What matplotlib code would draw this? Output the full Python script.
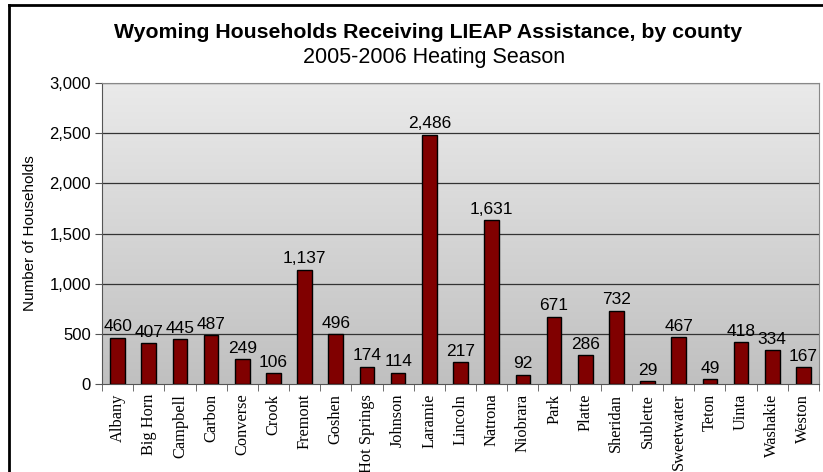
import matplotlib
matplotlib.use("Agg")
import matplotlib.pyplot as plt
import numpy as np
from matplotlib.lines import Line2D
from matplotlib.colors import LinearSegmentedColormap

counties = ["Albany", "Big Horn", "Campbell", "Carbon", "Converse", "Crook", "Fremont",
            "Goshen", "Hot Springs", "Johnson", "Laramie", "Lincoln", "Natrona", "Niobrara",
            "Park", "Platte", "Sheridan", "Sublette", "Sweetwater", "Teton", "Uinta",
            "Washakie", "Weston"]
households = [460, 407, 445, 487, 249, 106, 1137, 496, 174, 114, 2486, 217, 1631, 92,
              671, 286, 732, 29, 467, 49, 418, 334, 167]
yticks = [0, 500, 1000, 1500, 2000, 2500, 3000]

fig = plt.figure(figsize=(8.23, 4.72), dpi=100)
W, H = 823, 472
ax = fig.add_axes([102 / W, 1 - 384 / H, (819 - 102) / W, (384 - 83) / H])

# gradient background
grad = np.linspace(0, 1, 256).reshape(-1, 1)
cmap = LinearSegmentedColormap.from_list("g", ["#C0C0C0", "#EAEAEA"])
ax.imshow(grad, aspect="auto", cmap=cmap, origin="lower",
          extent=[0, 1, 0, 1], transform=ax.transAxes, zorder=0)

x = np.arange(len(counties))
ax.bar(x, households, width=0.47, color="#800000", edgecolor="black", linewidth=1.0, zorder=3)
for xi, v in zip(x, households):
    ax.text(xi, v + 35, f"{v:,}", ha="center", va="bottom", fontsize=12.5,
            family="Liberation Sans", zorder=4)

ax.set_xlim(-0.5, len(counties) - 0.5)
ax.set_ylim(0, 3000)
ax.set_yticks(yticks)
ax.set_yticklabels([f"{t:,}" for t in yticks], family="Liberation Sans", fontsize=12)
for t in yticks[1:]:
    ax.axhline(t, color="#333333", linewidth=0.9, zorder=1)

ax.set_xticks(x)
ax.set_xticklabels(counties, rotation=90, family="Liberation Serif", fontsize=11.8)
ax.tick_params(axis="x", length=0, pad=7)
ax.set_xticks(np.arange(-0.5, len(counties)), minor=True)
ax.tick_params(axis="x", which="minor", length=5, direction="out", color="#555555")
ax.tick_params(axis="y", length=5, direction="out", color="#555555", pad=3)

for s in ["top", "right"]:
    ax.spines[s].set_color("#888888")
ax.spines["left"].set_color("#555555")
ax.spines["bottom"].set_color("#555555")

ax.set_ylabel("Number of Households", family="Liberation Sans", fontsize=11, labelpad=9)

fig.text(428 / W, 1 - 33 / H, "Wyoming Households Receiving LIEAP Assistance, by county",
         ha="center", va="center", fontsize=15.3, fontweight="bold", family="Liberation Sans")
fig.text(434 / W, 1 - 57 / H, "2005-2006 Heating Season",
         ha="center", va="center", fontsize=15.5, family="Liberation Sans")

# outer frame (top and left visible)
fig.add_artist(Line2D([9 / W, 9 / W], [0, 1 - 5 / H], color="black", linewidth=2,
                      transform=fig.transFigure))
fig.add_artist(Line2D([9 / W, 1], [1 - 5 / H, 1 - 5 / H], color="black", linewidth=2,
                      transform=fig.transFigure))

fig.savefig("out.png", dpi=100)
